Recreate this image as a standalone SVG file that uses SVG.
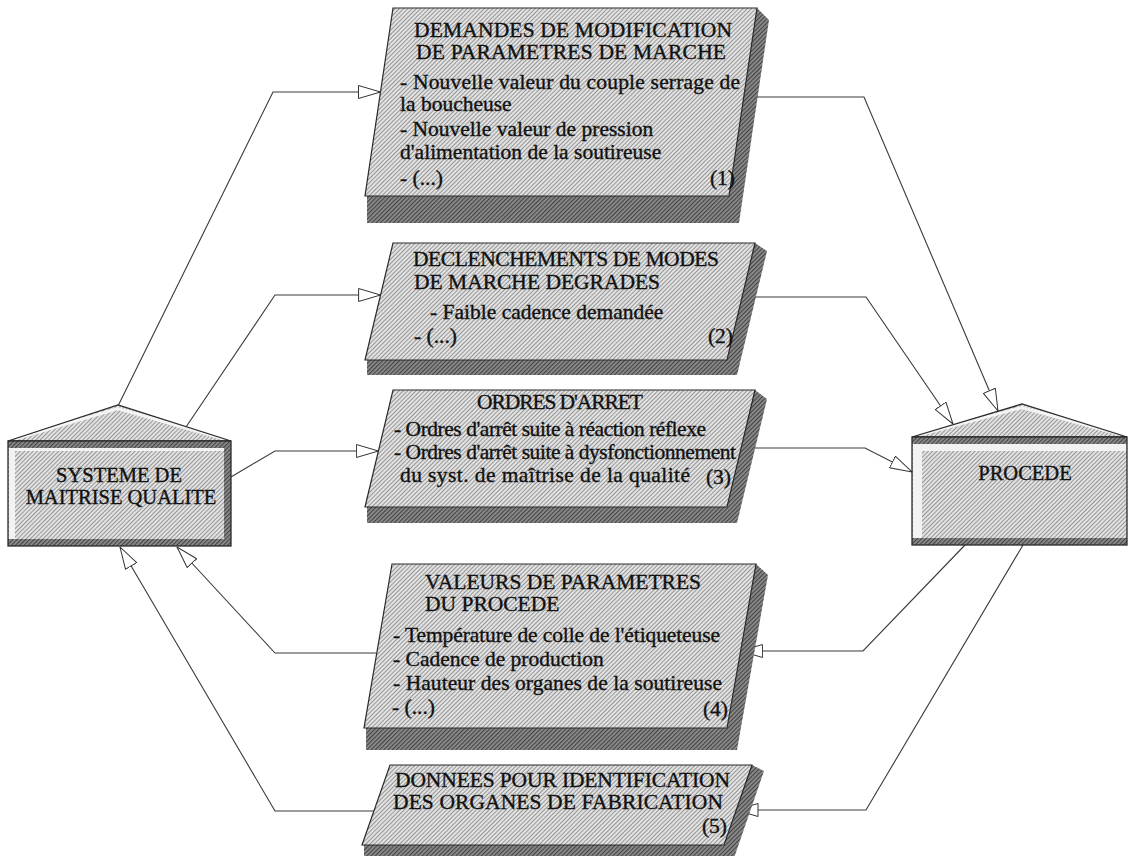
<svg xmlns="http://www.w3.org/2000/svg" width="1129" height="856" viewBox="0 0 1129 856">
<defs>
<pattern id="hatch" width="3" height="3" patternUnits="userSpaceOnUse" patternTransform="rotate(45)">
<rect width="3" height="3" fill="#e2e2e2"/><rect width="1" height="3" fill="#969696"/>
</pattern>
<pattern id="hatchDark" width="3" height="3" patternUnits="userSpaceOnUse" patternTransform="rotate(45)">
<rect width="3" height="3" fill="#8e8e8e"/><rect width="1.2" height="3" fill="#444"/>
</pattern>
<marker id="arr" viewBox="0 0 23 14" refX="22.5" refY="7" markerWidth="23" markerHeight="14" markerUnits="userSpaceOnUse" orient="auto">
<path d="M0.5,0.5 L22.5,7 L0.5,13.5 Z" fill="#fff" stroke="#333" stroke-width="1"/>
</marker>
</defs>
<style>
.box{fill:url(#hatch);stroke:#2a2a2a;stroke-width:1.2}
.shadow{fill:url(#hatchDark);stroke:none}
.body{fill:url(#hatch)}
.dark{fill:url(#hatchDark)}
.lite{fill:#f2f2f2}
.frame{fill:none;stroke:#2a2a2a;stroke-width:1.3}
.bevel{fill:none;stroke:#f4f4f4;stroke-width:3}
.t{font-family:"Liberation Serif","Times New Roman",serif;font-size:21.5px;fill:#111;stroke:#111;stroke-width:0.35}
.n{font-size:20.5px}
.m{text-anchor:middle}
.e{text-anchor:end}
.c{fill:none;stroke:#3a3a3a;stroke-width:1.1;marker-end:url(#arr)}
</style>
<rect width="1129" height="856" fill="#fff"/>

<g id="connectors">
<path class="c" d="M118,406 L273,92 L380.5,92"/>
<path class="c" d="M186,427 L275,295 L380.6,295"/>
<path class="c" d="M231,477 L275,451 L378.4,451"/>
<path class="c" d="M376.8,653 L275,653 L177,547"/>
<path class="c" d="M373.9,811 L275,811 L120,547"/>
<path class="c" d="M743.7,97 L864,97 L998,411"/>
<path class="c" d="M742,297 L866,297 L953,424"/>
<path class="c" d="M741,448 L865,448 L912,472"/>
<path class="c" d="M965,545 L863,651 L740.6,651"/>
<path class="c" d="M1023,545 L866,810 L736,810"/>
</g>

<g id="n-systeme">
<polygon class="body" points="8,441 118,405 231,441"/>
<polyline class="bevel" points="15,439 118,408.5 224,439"/>
<polygon class="frame" points="8,441 118,405 231,441"/>
<rect class="body" x="8" y="441" width="223" height="105"/>
<rect class="dark" x="8" y="441" width="223" height="7"/>
<rect class="lite" x="9" y="448" width="6" height="91"/>
<rect class="lite" x="9" y="448" width="215" height="3"/>
<rect class="dark" x="224" y="441" width="7" height="105"/>
<rect class="dark" x="8" y="539" width="223" height="7"/>
<rect class="frame" x="8" y="441" width="223" height="105"/>
<text class="t n m" x="119" y="482">SYSTEME DE</text>
<text class="t n m" x="121" y="504">MAITRISE QUALITE</text>
</g>

<g id="n-procede">
<polygon class="body" points="912,437 1022,404 1127,437"/>
<polyline class="bevel" points="919,435 1022,407.5 1122,435"/>
<polygon class="frame" points="912,437 1022,404 1127,437"/>
<rect class="body" x="912" y="437" width="215" height="108"/>
<rect class="dark" x="912" y="437" width="215" height="7"/>
<rect class="lite" x="913" y="444" width="9" height="94"/>
<rect class="lite" x="913" y="444" width="213" height="7"/>
<rect class="dark" x="912" y="538" width="215" height="7"/>
<rect class="frame" x="912" y="437" width="215" height="108"/>
<text class="t n m" x="1025" y="480">PROCEDE</text>
</g>

<g id="n1">
<polygon class="shadow" points="757,8 769,20 739,223 367,223 367,196"/>
<polygon class="box" points="393,8 757,8 729,196 365,196"/>
<text class="t m" x="573" y="37" textLength="318">DEMANDES DE MODIFICATION</text>
<text class="t m" x="571" y="59" textLength="310">DE PARAMETRES DE MARCHE</text>
<text class="t" x="400" y="89" textLength="340">- Nouvelle valeur du couple serrage de</text>
<text class="t" x="400" y="111">la boucheuse</text>
<text class="t" x="400" y="136">- Nouvelle valeur de pression</text>
<text class="t" x="400" y="159">d'alimentation de la soutireuse</text>
<text class="t" x="400" y="185">- (...)</text>
<text class="t e" x="735" y="185">(1)</text>
</g>

<g id="n2">
<polygon class="shadow" points="755,243 767,251 737,375 367,375 367,360"/>
<polygon class="box" points="393,243 755,243 727,360 365,360"/>
<text class="t" x="413" y="266" textLength="306">DECLENCHEMENTS DE MODES</text>
<text class="t" x="414" y="289">DE MARCHE DEGRADES</text>
<text class="t" x="430" y="319">- Faible cadence demandée</text>
<text class="t" x="414" y="343">- (...)</text>
<text class="t e" x="733" y="343">(2)</text>
</g>

<g id="n3">
<polygon class="shadow" points="755,390 767,399 737,523 367,523 367,507"/>
<polygon class="box" points="393,390 755,390 727,507 365,507"/>
<text class="t m" x="560" y="409" textLength="166">ORDRES D'ARRET</text>
<text class="t" x="394" y="436" textLength="312">- Ordres d'arrêt suite à réaction réflexe</text>
<text class="t" x="394" y="459" textLength="342">- Ordres d'arrêt suite à dysfonctionnement</text>
<text class="t" x="400" y="482" textLength="290">du syst. de maîtrise de la qualité</text>
<text class="t e" x="731" y="484">(3)</text>
</g>

<g id="n4">
<polygon class="shadow" points="756,564 768,575 737,750 366,750 366,728"/>
<polygon class="box" points="392,564 756,564 727,728 364,728"/>
<text class="t" x="425" y="589" textLength="276">VALEURS DE PARAMETRES</text>
<text class="t" x="425" y="611">DU PROCEDE</text>
<text class="t" x="393" y="642" textLength="327">- Température de colle de l'étiqueteuse</text>
<text class="t" x="393" y="666">- Cadence de production</text>
<text class="t" x="393" y="690" textLength="329">- Hauteur des organes de la soutireuse</text>
<text class="t" x="392" y="714">- (...)</text>
<text class="t e" x="728" y="716">(4)</text>
</g>

<g id="n5">
<polygon class="shadow" points="752,765 764,771 734,858 364,858 364,845"/>
<polygon class="box" points="390,765 752,765 724,845 362,845"/>
<text class="t" x="395" y="787" textLength="335">DONNEES POUR IDENTIFICATION</text>
<text class="t" x="393" y="809" textLength="330">DES ORGANES DE FABRICATION</text>
<text class="t e" x="727" y="833">(5)</text>
</g>
</svg>
